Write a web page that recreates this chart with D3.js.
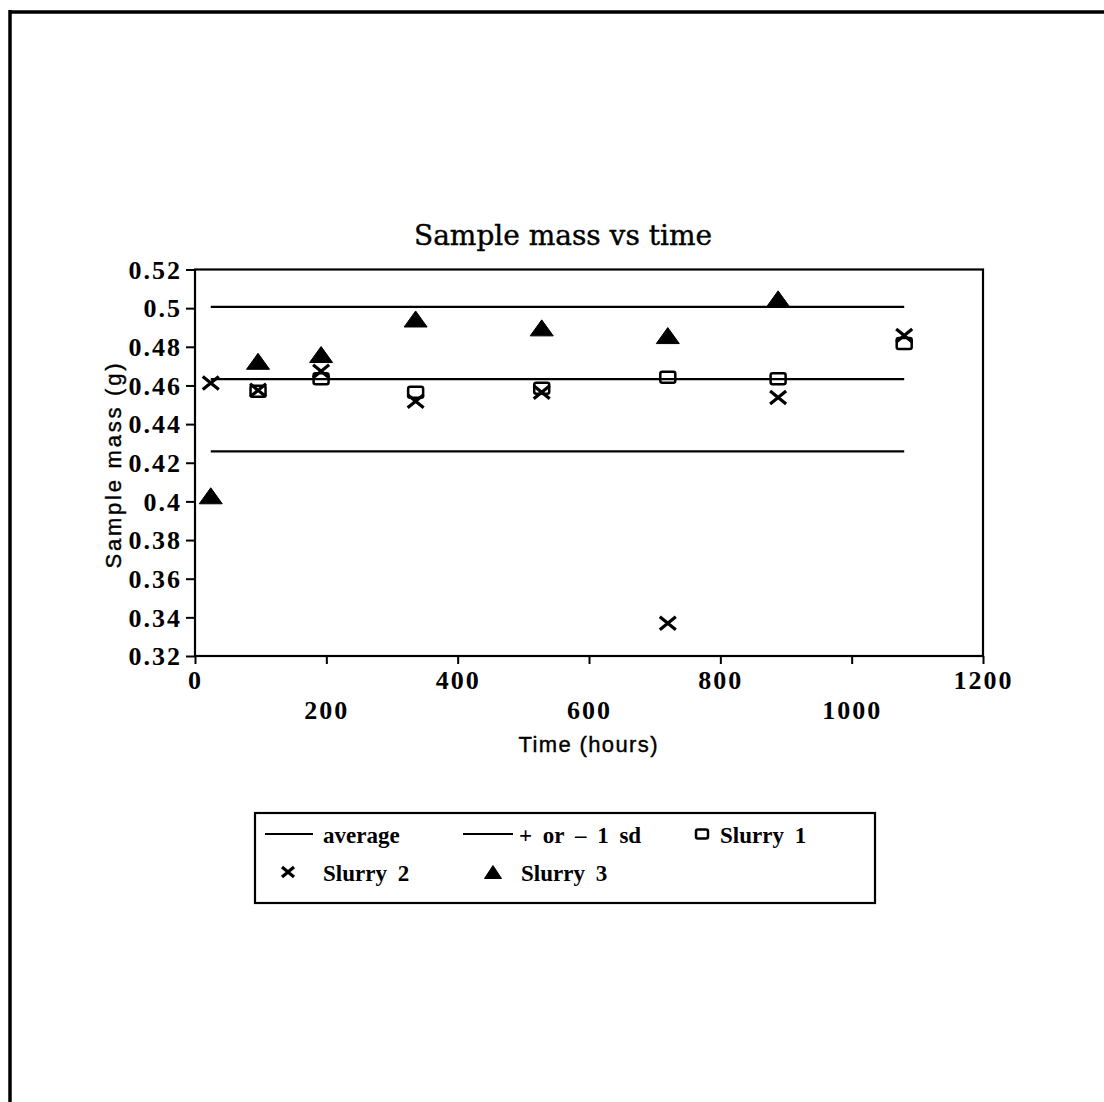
<!DOCTYPE html>
<html>
<head>
<meta charset="utf-8">
<script src="https://cdn.jsdelivr.net/npm/d3@7"></script>
<style>
  body { margin: 0; background: #fff; }
  svg { display: block; }
  .tick-label { font-family: "Liberation Serif", serif; font-weight: bold; font-size: 26px; letter-spacing: 2px; }
  .legend-text { font-family: "Liberation Serif", serif; font-weight: bold; font-size: 23px; word-spacing: 5px; }
</style>
</head>
<body>
<svg id="chart"></svg>
<script>
// time points (hours)
const times = [24, 96, 192, 336, 528, 720, 888, 1080];

// sample mass (g), null where no sample was weighed
const slurry1 = [null, 0.457, 0.4635, 0.4565, 0.4585, 0.4642, 0.4635, 0.4817];
const slurry2 = [0.4613, 0.4575, 0.4673, 0.4518, 0.4565, 0.337, 0.4538, 0.4858];
const slurry3 = [0.4029, 0.4725, 0.476, 0.4944, 0.4898, 0.4858, 0.5048, null];

const avgValue = 0.4633;
const sdValue = 0.0374;

const xTicks = [0, 200, 400, 600, 800, 1000, 1200];
const yTicks = [0.32, 0.34, 0.36, 0.38, 0.4, 0.42, 0.44, 0.46, 0.48, 0.5, 0.52];

const legendRow1 = ["average", "+ or – 1 sd", "Slurry 1"];
const legendRow2 = ["Slurry 2", "Slurry 3"];

const config = {
  width: 1104,
  height: 1102,
  plot: { left: 195, right: 983, top: 269.5, bottom: 656 },
};

const svg = d3.select("#chart")
  .attr("width", config.width)
  .attr("height", config.height);

// page frame (scanned sheet edge: top + left only)
svg.append("line")
  .attr("x1", 10).attr("x2", config.width)
  .attr("y1", 12).attr("y2", 12)
  .attr("stroke", "#000").attr("stroke-width", 3.5);
svg.append("line")
  .attr("x1", 10).attr("x2", 10)
  .attr("y1", 10).attr("y2", config.height)
  .attr("stroke", "#000").attr("stroke-width", 3.5);

const p = config.plot;
const x = d3.scaleLinear().domain([0, 1200]).range([p.left, p.right]);
const y = d3.scaleLinear().domain([0.32, 0.52]).range([p.bottom, p.top]);

// title
svg.append("text")
  .attr("x", 563)
  .attr("y", 245)
  .attr("text-anchor", "middle")
  .style("font-family", "DejaVu Serif, serif")
  .style("font-size", "28px")
  .style("stroke", "#000").style("stroke-width", 0.4)
  .text("Sample mass vs time");

// plot frame
svg.append("rect")
  .attr("x", p.left).attr("y", p.top)
  .attr("width", p.right - p.left).attr("height", p.bottom - p.top)
  .attr("fill", "none").attr("stroke", "#000").attr("stroke-width", 2.2);

// y axis
const yAxis = d3.axisLeft(y).tickValues(yTicks).tickSize(9).tickPadding(4)
  .tickFormat((d) => String(+d.toFixed(2)));
const yAxisG = svg.append("g").attr("transform", `translate(${p.left},0)`).call(yAxis);
yAxisG.select(".domain").remove();
yAxisG.selectAll("line").attr("stroke-width", 2);
yAxisG.selectAll("text").attr("class", "tick-label").attr("dy", "0.34em")
  .attr("font-family", null).attr("font-size", null);

// x axis, labels staggered on two rows
const xAxis = d3.axisBottom(x).tickValues(xTicks).tickSize(8).tickFormat((d) => d);
const xAxisG = svg.append("g").attr("transform", `translate(0,${p.bottom})`).call(xAxis);
xAxisG.select(".domain").remove();
xAxisG.selectAll("line").attr("stroke-width", 2);
xAxisG.selectAll("text")
  .attr("class", "tick-label")
  .attr("font-family", null).attr("font-size", null)
  .attr("dy", null)
  .attr("y", (d, i) => (i % 2 === 0 ? 33 : 63));

// axis titles
svg.append("text")
  .attr("transform", "translate(121,466) rotate(-90)")
  .attr("text-anchor", "middle")
  .attr("textLength", 205)
  .style("font-family", "Liberation Sans, Arial, sans-serif")
  .style("font-size", "22px")
  .style("stroke", "#000").style("stroke-width", 0.4)
  .text("Sample mass (g)");

svg.append("text")
  .attr("x", 588)
  .attr("y", 752)
  .attr("text-anchor", "middle")
  .attr("textLength", 139)
  .style("font-family", "Liberation Sans, Arial, sans-serif")
  .style("font-size", "22px")
  .style("stroke", "#000").style("stroke-width", 0.4)
  .text("Time (hours)");

// average and +/- 1 sd lines across the sampled range
const refLines = [avgValue, avgValue + sdValue, avgValue - sdValue];
svg.selectAll(".ref-line")
  .data(refLines)
  .join("line")
  .attr("class", "ref-line")
  .attr("x1", x(times[0])).attr("x2", x(times[times.length - 1]))
  .attr("y1", (d) => y(d)).attr("y2", (d) => y(d))
  .attr("stroke", "#000").attr("stroke-width", 2.2);

// marker drawers
function drawSquare(g, w, h) {
  g.append("rect").attr("x", -w / 2).attr("y", -h / 2)
    .attr("width", w).attr("height", h).attr("rx", 2)
    .attr("fill", "none").attr("stroke", "#000").attr("stroke-width", 2.5);
}
function drawCross(g, w, h) {
  g.append("path")
    .attr("d", `M${-w / 2},${-h / 2}L${w / 2},${h / 2}M${w / 2},${-h / 2}L${-w / 2},${h / 2}`)
    .attr("stroke", "#000").attr("stroke-width", 3.2).attr("fill", "none");
}
function drawTriangle(g, w, h) {
  g.append("path")
    .attr("d", `M0,${-h / 2}L${w / 2},${h / 2}L${-w / 2},${h / 2}Z`)
    .attr("fill", "#000").attr("stroke", "#000").attr("stroke-width", 1);
}

const series = [
  { values: slurry1, draw: (g) => drawSquare(g, 15, 11) },
  { values: slurry2, draw: (g) => drawCross(g, 16, 13) },
  { values: slurry3, draw: (g) => drawTriangle(g, 23, 16) },
];

series.forEach((s) => {
  const pts = times
    .map((t, i) => ({ t: t, v: s.values[i] }))
    .filter((d) => d.v !== null);
  svg.append("g")
    .selectAll("g")
    .data(pts)
    .join("g")
    .attr("transform", (d) => `translate(${x(d.t)},${y(d.v)})`)
    .each(function () { s.draw(d3.select(this)); });
});

// legend
const legend = svg.append("g");
legend.append("rect")
  .attr("x", 255).attr("y", 813).attr("width", 620).attr("height", 90)
  .attr("fill", "none").attr("stroke", "#000").attr("stroke-width", 2.2);

const row1y = 834, row2y = 872;
[[265, 313], [463, 513]].forEach(([a, b]) => {
  legend.append("line").attr("x1", a).attr("x2", b)
    .attr("y1", row1y).attr("y2", row1y)
    .attr("stroke", "#000").attr("stroke-width", 2);
});
drawSquare(legend.append("g").attr("transform", `translate(702,${row1y})`), 12, 9);
drawCross(legend.append("g").attr("transform", `translate(288,${row2y})`), 12, 10);
drawTriangle(legend.append("g").attr("transform", `translate(493,${row2y})`), 17, 13);

[323, 519, 720].forEach((lx, i) => {
  legend.append("text").attr("class", "legend-text")
    .attr("x", lx).attr("y", row1y + 9).text(legendRow1[i]);
});
[323, 521].forEach((lx, i) => {
  legend.append("text").attr("class", "legend-text")
    .attr("x", lx).attr("y", row2y + 9).text(legendRow2[i]);
});
</script>
</body>
</html>
